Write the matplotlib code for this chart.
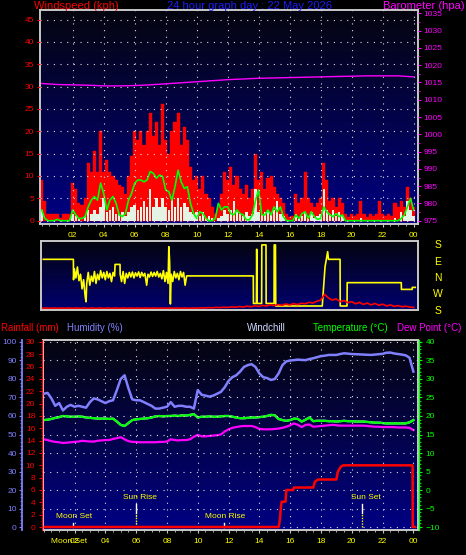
import numpy as np
import matplotlib
matplotlib.use("Agg")
import matplotlib.pyplot as plt
from matplotlib.colors import LinearSegmentedColormap
from matplotlib.ticker import MultipleLocator, FixedLocator, FuncFormatter

plt.rcParams['font.family'] = ['Liberation Sans', 'DejaVu Sans']

# ---------------- wind panel (samples every 0.2 h) ----------------
WIND_STEP = 0.2
gust_kph = [
    9, 4.5, 1.5, 1.5, 1.5, 1.5, 0.5, 1.5, 1.5, 1.5,
    8.5, 7, 4, 3.5, 5, 13, 11, 15.5, 11, 20,
    11, 13.5, 11, 10, 9, 8, 7.5, 6, 10, 14.5,
    20, 18, 20, 17, 20, 24, 19, 22, 17, 26,
    18, 15, 20, 22, 24, 17, 21, 18, 12, 9,
    10, 7, 10, 6, 5, 3, 1.5, 3, 6, 11,
    9, 12, 8, 10, 7, 6, 8, 5, 7, 15,
    9, 11, 7, 9.5, 10, 7.5, 6, 5, 4, 1.5,
    0.8, 1, 6, 4, 5, 11, 5, 4, 3, 4,
    5, 13, 9, 4.5, 5, 3, 5, 4, 1.5, 0.8,
    1.5, 1, 1.5, 4.5, 1.5, 0.8, 1.5, 1, 1.5, 4.5,
    1.5, 1, 1.5, 1, 4, 3, 4.5, 3, 7.5, 5,
    3]
speed_kph = [
    2.5, 0, 0, 0, 0, 0, 0, 0, 0, 0,
    1.5, 1, 0.5, 0, 1, 2.5, 1.5, 2.5, 1.5, 3,
    5, 2, 2.5, 3, 1.5, 1.5, 2, 1, 2, 3,
    3.5, 2.5, 3, 4.5, 3, 7, 3, 5, 3, 5,
    3, 2.5, 5, 3, 5, 3, 4, 3, 2, 1.5,
    2, 1, 2, 0.5, 1, 0.5, 0, 0.5, 1, 2.5,
    1.5, 2.5, 4.5, 2, 1.5, 1, 2, 1, 1.5, 7,
    2, 1.5, 2, 2.5, 1.5, 2.5, 4.5, 1.5, 1, 0,
    0, 0, 1.5, 0.5, 1, 2, 1, 2, 0.5, 1,
    1.5, 7, 2.5, 1.5, 2.5, 1, 2, 1, 0, 0,
    0, 0, 0, 0.5, 0, 0, 0, 0, 0, 0,
    0, 0, 0, 0, 0.5, 0, 2, 1, 4.5, 2.5,
    1]
avg_kph = [
    2.4, 0.5, 0, 0, 0, 0.3, 0, 0, 0, 0,
    2.4, 1.3, 0.5, 0.5, 0.9, 3.1, 4.6, 5.4, 4.6, 8.4,
    6.1, 2.4, 4.6, 5.4, 3.9, 1.3, 0.9, 1.6, 4.6, 6.1,
    8.4, 9.1, 9.1, 8.7, 9.1, 11, 10.6, 9.5, 10.2, 9.9,
    6.9, 6.5, 4.6, 7.6, 11.3, 8.7, 7.2, 7.6, 3.9, 1.6,
    0.5, 2.0, 1.6, 0.5, 0, 0, 0.5, 3.9, 2.4, 3.1,
    3.1, 1.6, 1.3, 2.4, 1.6, 1.3, 0.2, 0.2, 1.3, 4.6,
    6.9, 1.3, 1.3, 2.4, 1.3, 3.1, 2.0, 3.1, 0.9, 0,
    0, 0, 1.3, 0.5, 1.6, 2.0, 0.5, 2.0, 0.9, 0.3,
    0.5, 3.1, 2.0, 1.3, 0.9, 1.6, 0.9, 1.3, 0, 0,
    0, 0, 0, 0, 0, 0, 0, 0, 0, 0,
    0, 0, 0, 0, 0, 0, 0.5, 1.3, 3.1, 5.0,
    2.4]
baro_hours = list(range(25))
baro_hpa = [1014.7, 1014.4, 1014.3, 1014.2, 1014.0, 1014.0, 1014.1, 1014.3,
            1014.6, 1014.9, 1015.2, 1015.5, 1015.8, 1016.0, 1016.2, 1016.3,
            1016.4, 1016.5, 1016.6, 1016.7, 1016.8, 1016.9, 1016.9, 1016.9, 1016.6]

# ---------------- direction panel ----------------
# degrees unwrapped so the axis reads S(180) W N E S(540) from bottom to top
compass_labels = ['S', 'W', 'N', 'E', 'S']
compass_deg = [180, 270, 360, 450, 540]
dir_hours = [0.1, 2.04, 2.05, 2.1, 2.2, 2.3, 2.4, 2.5, 2.6, 2.7,
             2.8, 2.86, 2.9, 3.0, 3.1, 3.2, 3.3, 3.4, 3.5, 3.6,
             3.7, 3.8, 3.9, 4.0, 4.1, 4.2, 4.3, 4.4, 4.5, 4.6,
             4.7, 4.73, 5.05, 5.06, 5.15, 5.25, 5.35, 5.45, 5.55, 5.65,
             5.75, 5.85, 5.95, 6.05, 6.15, 6.25, 6.35, 6.45, 6.55, 6.65,
             6.77, 6.85, 6.95, 7.05, 7.15, 7.25, 7.35, 7.45, 7.55, 7.65,
             7.75, 7.85, 7.95, 8.05, 8.15, 8.2, 8.25, 8.3, 8.35, 8.45,
             8.55, 8.65, 8.75, 8.85, 8.95, 9.05, 9.15, 9.25, 9.35, 13.65,
             13.66, 13.85, 13.87, 13.9, 14.19, 14.2, 14.47, 14.48, 14.99, 15.0,
             15.08, 15.1, 18.1, 18.28, 18.45, 18.5, 19.25, 19.26, 19.7, 19.71,
             23.2, 23.21, 23.9, 23.91, 24.1]
dir_deg = [462, 462, 350, 410, 360, 420, 345, 380, 300, 350,
           260, 229, 330, 390, 320, 370, 340, 395, 330, 380,
           350, 400, 360, 390, 350, 395, 360, 385, 340, 390,
           370, 434, 434, 380, 340, 395, 330, 385, 360, 390,
           365, 392, 360, 388, 370, 393, 362, 390, 370, 385,
           320, 380, 365, 392, 368, 390, 370, 395, 365, 385,
           355, 400, 340, 390, 330, 531, 450, 217, 380, 340,
           395, 360, 385, 350, 395, 365, 390, 320, 371, 371,
           220, 220, 517, 220, 220, 541, 541, 220, 220, 541,
           541, 206, 206, 421, 504, 462, 462, 206, 206, 334,
           334, 297, 297, 308, 308]
# red trace along the bottom of the direction panel, every 0.25 h
dir_red = [193, 195, 193, 195, 193, 195, 193, 195, 193, 195,
           193, 195, 193, 195, 193, 195, 193, 195, 193, 195,
           193, 195, 193, 195, 193, 195, 193, 195, 193, 195,
           193, 195, 193, 195, 193, 195, 193, 195, 193, 195,
           194, 196, 195, 197, 196, 198, 197, 199,
           198, 201, 199, 203, 200, 205, 202, 207, 204, 209, 206, 212,
           208, 214, 210, 217, 212, 219, 214, 221,
           218, 226, 222, 232, 238, 270, 250, 238, 245, 230, 236, 224,
           230, 218, 226, 215, 222, 212, 220, 210, 216, 206, 212, 204,
           208, 202, 205, 200, 198]

# ---------------- climate panel (samples every 0.25 h) ----------------
CLIM_STEP = 0.25
hum_pct = [72, 72.5, 69.5, 65.5, 67, 63, 65, 66,
           65, 65.5, 65, 64.5, 67.5, 69.5, 69, 68,
           67, 68, 68.5, 74, 80, 82, 75, 69,
           68.5, 68.5, 67.5, 66.5, 65.5, 64, 64, 64.5,
           65, 67.5, 65, 65.5, 65.5, 65, 65, 64,
           74, 71.5, 71, 70.5, 71, 72, 73, 75.5,
           79, 81, 82, 84, 86.5, 87.5, 88, 86.5,
           83, 81, 80.5, 79.5, 80, 83, 87.5, 89.5,
           90, 90.2, 90.5, 90.3, 90.2, 90.8, 91.2, 91.8,
           92.4, 92.6, 93, 93, 93, 93.5, 93.9, 93.7,
           93.5, 93.4, 93.3, 93.2, 93.1, 93, 93.2, 93.4,
           93.6, 94.2, 94.3, 93.8, 93.5, 93.2, 92.8, 91.5,
           84]
temp_c = [18.9, 19.0, 19.2, 19.5, 19.7, 20.0, 19.9, 19.8,
          19.8, 19.9, 19.8, 19.6, 19.5, 19.4, 19.3, 19.3,
          19.3, 19.2, 19.3, 18.5, 17.6, 17.3, 18.1, 18.9,
          19.1, 19.2, 19.3, 19.4, 19.6, 19.9, 20.0, 19.9,
          20.0, 20.0, 20.1, 20.0, 20.2, 20.1, 20.3, 20.5,
          19.6, 19.8, 19.8, 19.9, 19.8, 19.8, 19.9, 20.0,
          20.0, 19.8, 19.6, 19.4, 19.4, 19.5, 19.6, 19.6,
          19.7, 19.8, 20.0, 20.3, 20.2, 19.2, 18.9, 18.7,
          18.9, 19.3, 19.2, 18.5, 19.0, 19.6, 18.6, 18.7,
          18.7, 18.7, 18.6, 18.6, 18.5, 18.6, 18.7, 18.6,
          18.6, 18.5, 18.5, 18.5, 18.4, 18.3, 18.2, 18.2,
          18.1, 18.0, 18.0, 18.0, 18.0, 18.0, 18.0, 18.3,
          18.9]
windchill_c = temp_c  # no wind chill at these temperatures, hidden under temperature
dew_c = [13.7, 13.5, 13.2, 13.0, 12.9, 12.7, 12.8, 12.9,
         13.0, 13.1, 13.3, 13.2, 13.1, 13.1, 13.3, 13.4,
         13.5, 13.5, 13.8, 14.0, 14.3, 13.7, 13.2, 13.0,
         13.0, 12.9, 12.9, 12.9, 12.9, 12.9, 13.0, 13.0,
         13.1, 13.7, 13.5, 13.4, 13.5, 13.5, 13.7, 14.4,
         14.9, 14.5, 14.5, 14.6, 14.7, 14.8, 15.0, 15.8,
         16.4, 16.8, 17.0, 17.2, 17.3, 17.3, 17.3, 17.0,
         16.5, 16.4, 16.4, 16.4, 16.5, 16.6, 16.8, 17.1,
         17.5, 18.0, 17.6, 17.0, 17.6, 17.7, 17.1, 17.2,
         17.3, 17.4, 17.5, 17.6, 17.5, 17.4, 17.4, 17.4,
         17.4, 17.4, 17.4, 17.4, 17.3, 17.2, 17.1, 17.1,
         17.0, 17.0, 17.0, 17.0, 16.9, 16.9, 16.9, 16.8,
         16.2]
rain_hours = [0.08, 15.25, 15.3, 15.35, 15.4, 15.45, 15.7, 15.75, 16.2, 16.25,
              17.5, 17.6, 17.8, 19.0, 19.1, 19.3, 19.45, 23.95, 23.96, 24.1]
rain_mm = [0.0, 0.0, 0.6, 1.7, 3.3, 4.1, 4.1, 6.0, 6.0, 6.4,
           6.4, 7.3, 7.7, 7.7, 9.0, 9.8, 10.0, 10.0, 0.0, 0.0]

event_names = ['Moon Set', 'Sun Rise', 'Moon Rise', 'Sun Set']
event_hours = [1.92, 5.99, 11.73, 20.69]

# ---------------- styling helpers ----------------
W, H = 466, 555
FRAME = '#c8c8c8'
YELLOW = '#ffff00'
DOTS = (0, (1, 5))


def box(left, top, right, bottom):
    return [left / W, 1 - bottom / H, (right - left) / W, (bottom - top) / H]


def shade(ax, top, bottom):
    cmap = LinearSegmentedColormap.from_list('bg', [top, bottom])
    ax.imshow(np.linspace(0, 1, 256)[:, None], cmap=cmap, aspect='auto',
              extent=[0, 1, 0, 1], transform=ax.transAxes, zorder=0)


def frame(ax):
    for s in ax.spines.values():
        s.set_color(FRAME)
        s.set_linewidth(1.4)


def hour_axis(ax):
    ax.xaxis.set_major_locator(FixedLocator(range(2, 25, 2)))
    ax.xaxis.set_minor_locator(MultipleLocator(0.5))
    ax.xaxis.set_major_formatter(FuncFormatter(lambda v, p: f"{int(round(v)) % 24:02d}"))
    ax.tick_params(axis='x', which='both', colors=FRAME, labelcolor=YELLOW,
                   labelsize=6, length=2.2, pad=3.5)
    ax.tick_params(axis='x', which='minor', length=1.6)


def only_spine(ax, keep):
    for name, s in ax.spines.items():
        s.set_visible(name == keep)


fig = plt.figure(figsize=(W / 100, H / 100), dpi=100, facecolor='black')

# ---------------- top: wind + barometer ----------------
ax1 = fig.add_axes(box(40, 10, 417.5, 224))
shade(ax1, '#05050f', '#000084')
wind_hours = np.arange(len(gust_kph)) * WIND_STEP
ax1.bar(wind_hours, gust_kph, width=WIND_STEP, color='#ff0000',
        edgecolor='#ff0000', lw=0.3, zorder=1)
ax1.bar(wind_hours, speed_kph, width=0.16, color='#e4f4e4', lw=0, zorder=1.5)
ax1.plot(wind_hours, avg_kph, color='#00ff00', lw=1.2, zorder=2)
ax1.set_xlim(-0.11, 24.25)
ax1.set_ylim(-0.74, 47.14)
ax1.yaxis.set_major_locator(MultipleLocator(5))
ax1.tick_params(axis='y', colors='#ff0000', labelsize=6, length=2.2, pad=2)
hour_axis(ax1)
ax1.grid(True, color='#dcdcdc', linestyle=DOTS, lw=0.8)
ax1.set_axisbelow(False)
frame(ax1)

ax1b = ax1.twinx()
ax1b.plot(baro_hours, baro_hpa, color='#ff00ff', lw=1)
ax1b.set_ylim(974.05, 1035.95)
ax1b.yaxis.set_major_locator(MultipleLocator(5))
ax1b.yaxis.set_minor_locator(MultipleLocator(2.5))
ax1b.tick_params(axis='y', which='both', colors='#ff00ff', labelsize=6, length=2.5, pad=2)
ax1b.tick_params(axis='y', which='minor', length=1.5)
for s in ax1b.spines.values():
    s.set_visible(False)

fig.text(34 / W, 1 - 6 / H, 'Windspeed (kph)', color='#ff0000', fontsize=8, ha='left', va='center')
fig.text(250 / W, 1 - 6 / H, '24 hour graph day : 22 May 2026', color='#1c1cff', fontsize=8,
         ha='center', va='center')
fig.text(465 / W, 1 - 6 / H, 'Barometer (hpa)', color='#ff00ff', fontsize=8, ha='right', va='center')

# ---------------- middle: wind direction ----------------
ax2 = fig.add_axes(box(41.3, 241, 417.7, 310))
shade(ax2, '#04040f', '#000070')
ax2.plot(dir_hours, dir_deg, color=YELLOW, lw=1.2)
ax2.plot(np.arange(len(dir_red)) * 0.25, dir_red, color='#ff0000', lw=1.2)
ax2.set_xlim(-0.03, 24.26)
ax2.set_ylim(184, 562.5)
ax2.set_xticks([])
ax2.set_yticks([])
frame(ax2)
for name, deg in zip(compass_labels, compass_deg):
    ax2.text(1.054, deg, name, transform=ax2.get_yaxis_transform(), color=YELLOW,
             fontsize=7.5, ha='center', va='center', clip_on=False)

# ---------------- bottom: rain, humidity, temperature ----------------
ax3 = fig.add_axes(box(42.7, 340, 418.3, 530))
shade(ax3, '#05050f', '#000084')
clim_hours = np.arange(len(temp_c)) * CLIM_STEP
ax3.plot(clim_hours, windchill_c, color='#d0d8ff', lw=1.6)
ax3.plot(clim_hours, temp_c, color='#00ff00', lw=1.6)
ax3.plot(clim_hours, dew_c, color='#ff00ff', lw=1.6)
ax3.set_xlim(-0.065, 24.32)
ax3.set_ylim(-10.81, 40.54)
ax3.yaxis.set_major_locator(MultipleLocator(5))
hour_axis(ax3)

axh = ax3.twinx()
axh.plot(clim_hours, hum_pct, color='#8080ff', lw=1.8)
axh.set_ylim(-1.62, 101.08)
axh.yaxis.tick_left()
only_spine(axh, 'left')
axh.spines['left'].set_position(('outward', 15))
axh.spines['left'].set_color('#8080ff')
axh.spines['left'].set_linewidth(1.3)
axh.yaxis.set_major_locator(MultipleLocator(10))
axh.yaxis.set_minor_locator(MultipleLocator(2))
axh.tick_params(axis='y', which='both', colors='#8080ff', labelsize=6, length=2.2, pad=1.5)
axh.tick_params(axis='y', which='minor', length=1.2)

axr = ax3.twinx()
axr.plot(rain_hours, rain_mm, color='#ff0000', lw=1.8)
axr.set_ylim(-0.486, 30.32)
axr.yaxis.tick_left()
only_spine(axr, 'left')
axr.spines['left'].set_position(('outward', 0.7))
axr.spines['left'].set_color('#ff0000')
axr.spines['left'].set_linewidth(0.8)
axr.yaxis.set_major_locator(MultipleLocator(2))
axr.yaxis.set_minor_locator(MultipleLocator(0.5))
axr.tick_params(axis='y', which='both', colors='#ff0000', labelsize=6, length=2.4, pad=2.2)
axr.tick_params(axis='y', which='minor', length=1.0)

axt = ax3.twinx()
axt.set_ylim(ax3.get_ylim())
only_spine(axt, 'right')
axt.spines['right'].set_position(('outward', 0.7))
axt.spines['right'].set_color('#00ff00')
axt.spines['right'].set_linewidth(1.0)
axt.yaxis.set_major_locator(MultipleLocator(5))
axt.yaxis.set_minor_locator(MultipleLocator(1))
axt.tick_params(axis='y', which='both', colors='#00ff00', labelsize=6, length=2.4, pad=2)
axt.tick_params(axis='y', which='minor', length=1.2)

ax3.tick_params(axis='y', which='both', left=False, right=False, labelleft=False, labelright=False)
ax3.grid(True, color='#dcdcdc', linestyle=DOTS, lw=0.8)
ax3.set_axisbelow(False)
frame(ax3)

tr = ax3.get_xaxis_transform()
for name, h in zip(event_names, event_hours):
    if name.startswith('Moon'):
        ax3.axvline(h, 0.016, 0.037, color='white', lw=1)
        ax3.text(h + 0.05, 0.07, name, transform=tr, color=YELLOW, fontsize=6,
                 ha='center', va='center')
    else:
        ax3.axvline(h, 0.089, 0.137, color='white', lw=1)
        ax3.axvline(h, 0.016, 0.089, color=YELLOW, lw=1, linestyle=(0, (1, 1)))
        ax3.text(h + 0.25, 0.172, name, transform=tr, color=YELLOW, fontsize=6,
                 ha='center', va='center')
ax3.text(event_hours[0] - 0.26, -0.0616, event_names[0], transform=tr, color=YELLOW,
         fontsize=6, ha='center', va='center', clip_on=False)

legend_y = 1 - 327.7 / H
fig.text(1 / W, legend_y, 'Rainfall (mm)', color='#ff0000', fontsize=7, va='center')
fig.text(66.7 / W, legend_y, 'Humidity (%)', color='#8080ff', fontsize=7, va='center')
fig.text(246.7 / W, legend_y, 'Windchill', color='#d0d8ff', fontsize=7, va='center')
fig.text(313.3 / W, legend_y, 'Temperature (°C)', color='#00ff00', fontsize=7, va='center')
fig.text(461.7 / W, legend_y, 'Dew Point (°C)', color='#ff00ff', fontsize=7, va='center', ha='right')

fig.savefig('out.png', dpi=100, facecolor='black')
